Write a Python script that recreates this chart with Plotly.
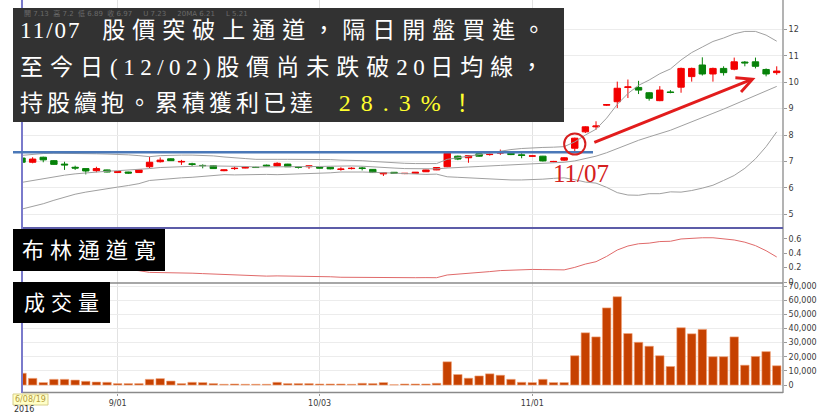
import plotly.graph_objects as go

# ---------------- data ----------------
dates = [
    "2016-08-19", "2016-08-22", "2016-08-23", "2016-08-24", "2016-08-25", "2016-08-26", "2016-08-29", "2016-08-30", "2016-08-31",
    "2016-09-01", "2016-09-02", "2016-09-05", "2016-09-06", "2016-09-07", "2016-09-08", "2016-09-09", "2016-09-10", "2016-09-12",
    "2016-09-13", "2016-09-14", "2016-09-19", "2016-09-20", "2016-09-21", "2016-09-22", "2016-09-23", "2016-09-26", "2016-09-29",
    "2016-09-30",
    "2016-10-03", "2016-10-04", "2016-10-05", "2016-10-06", "2016-10-07", "2016-10-11", "2016-10-12", "2016-10-13", "2016-10-14",
    "2016-10-17", "2016-10-18", "2016-10-19", "2016-10-20", "2016-10-21", "2016-10-24", "2016-10-25", "2016-10-26", "2016-10-27",
    "2016-10-28", "2016-10-31",
    "2016-11-01", "2016-11-02", "2016-11-03", "2016-11-04", "2016-11-07", "2016-11-08", "2016-11-09", "2016-11-10", "2016-11-11",
    "2016-11-14", "2016-11-15", "2016-11-16", "2016-11-17", "2016-11-18", "2016-11-21", "2016-11-22", "2016-11-23", "2016-11-24",
    "2016-11-25", "2016-11-28", "2016-11-29", "2016-11-30",
    "2016-12-01", "2016-12-02",
]

opens = [7.13, 6.97, 7.16, 7.03, 6.90, 6.78, 6.73, 6.65, 6.68, 6.58,
         6.60, 6.58, 6.80, 6.99, 7.10, 6.98, 6.91, 6.85, 6.84, 6.65,
         6.73, 6.75, 6.78, 6.86, 6.83, 6.90, 6.79, 6.80, 6.78, 6.78,
         6.70, 6.73, 6.75, 6.70, 6.53, 6.59, 6.54, 6.55, 6.61, 6.68,
         6.80, 7.20, 7.14, 7.29, 7.26, 7.32, 7.31, 7.25, 7.20, 7.20,
         6.99, 7.05, 7.50, 8.12, 8.31, 9.13, 9.26, 9.80, 9.80, 9.60,
         9.30, 9.63, 9.81, 10.21, 10.65, 10.31, 10.52, 10.49, 10.76, 10.77,
         10.48, 10.36]
highs = [7.20, 7.16, 7.18, 7.05, 6.99, 6.84, 6.73, 6.80, 6.69, 6.63,
         6.61, 6.69, 7.18, 7.15, 7.12, 7.06, 6.95, 6.89, 6.85, 6.69,
         6.80, 6.81, 6.80, 6.88, 6.97, 6.91, 6.81, 6.84, 6.79, 6.79,
         6.78, 6.78, 6.80, 6.71, 6.58, 6.60, 6.56, 6.60, 6.69, 6.78,
         7.32, 7.22, 7.24, 7.30, 7.30, 7.45, 7.33, 7.31, 7.23, 7.21,
         7.02, 7.16, 7.90, 8.33, 8.52, 9.17, 10.02, 10.10, 10.05, 9.62,
         9.85, 9.70, 10.55, 10.55, 10.94, 10.55, 10.60, 10.93, 10.80, 10.93,
         10.52, 10.60]
lows = [6.89, 6.93, 6.97, 6.87, 6.68, 6.68, 6.51, 6.59, 6.59, 6.57,
        6.53, 6.57, 6.74, 6.96, 7.02, 6.87, 6.83, 6.74, 6.72, 6.63,
        6.68, 6.74, 6.76, 6.82, 6.81, 6.79, 6.73, 6.72, 6.74, 6.70,
        6.65, 6.70, 6.66, 6.57, 6.45, 6.54, 6.52, 6.54, 6.60, 6.67,
        6.78, 7.05, 6.95, 7.18, 7.22, 7.25, 7.24, 7.12, 7.17, 7.00,
        6.97, 7.02, 7.31, 8.08, 8.20, 9.10, 9.02, 9.40, 9.55, 9.30,
        9.28, 9.58, 9.60, 10.02, 10.25, 10.02, 10.25, 10.45, 10.60, 10.52,
        10.22, 10.28]
closes = [6.97, 7.09, 7.06, 6.89, 6.87, 6.75, 6.64, 6.73, 6.60, 6.62,
          6.56, 6.68, 6.97, 7.05, 7.03, 7.00, 6.89, 6.84, 6.73, 6.68,
          6.74, 6.78, 6.77, 6.83, 6.93, 6.80, 6.78, 6.83, 6.75, 6.72,
          6.71, 6.74, 6.74, 6.58, 6.57, 6.55, 6.55, 6.59, 6.68, 6.77,
          7.31, 7.09, 7.22, 7.20, 7.27, 7.33, 7.26, 7.23, 7.21, 7.02,
          7.00, 7.14, 7.88, 8.31, 8.34, 9.15, 9.77, 9.82, 9.70, 9.39,
          9.70, 9.61, 10.52, 10.52, 10.31, 10.52, 10.36, 10.77, 10.73, 10.60,
          10.31, 10.42]

bb_upper = [7.23, 7.27, 7.30, 7.31, 7.31, 7.30, 7.30, 7.29, 7.28, 7.27,
            7.25, 7.22, 7.18, 7.22, 7.24, 7.24, 7.24, 7.23, 7.21, 7.17,
            7.15, 7.11, 7.08, 7.07, 7.08, 7.08, 7.08, 7.08, 7.07, 7.07,
            7.05, 7.05, 7.03, 7.00, 6.97, 6.94, 6.93, 6.92, 6.92, 6.92,
            7.08, 7.13, 7.20, 7.26, 7.32, 7.40, 7.45, 7.49, 7.52, 7.53,
            7.54, 7.56, 7.74, 8.00, 8.22, 8.64, 9.16, 9.57, 9.88, 10.08,
            10.32, 10.50, 10.84, 11.12, 11.33, 11.54, 11.67, 11.83, 11.92, 11.92,
            11.78, 11.55]
bb_mid = [6.21, 6.28, 6.35, 6.42, 6.48, 6.53, 6.57, 6.60, 6.63, 6.65,
          6.67, 6.69, 6.73, 6.77, 6.79, 6.81, 6.82, 6.83, 6.83, 6.83,
          6.82, 6.81, 6.79, 6.79, 6.79, 6.79, 6.80, 6.81, 6.81, 6.82,
          6.83, 6.83, 6.82, 6.79, 6.77, 6.75, 6.73, 6.72, 6.72, 6.72,
          6.75, 6.76, 6.79, 6.81, 6.82, 6.85, 6.87, 6.89, 6.92, 6.93,
          6.95, 6.97, 7.02, 7.11, 7.20, 7.33, 7.49, 7.65, 7.80, 7.93,
          8.05, 8.18, 8.34, 8.51, 8.66, 8.82, 8.98, 9.15, 9.33, 9.51,
          9.67, 9.84]
bb_lower = [5.20, 5.30, 5.40, 5.53, 5.65, 5.76, 5.84, 5.91, 5.98, 6.03,
            6.09, 6.16, 6.28, 6.32, 6.34, 6.38, 6.40, 6.43, 6.45, 6.50,
            6.49, 6.50, 6.51, 6.51, 6.50, 6.51, 6.52, 6.53, 6.55, 6.57,
            6.60, 6.61, 6.60, 6.59, 6.57, 6.56, 6.53, 6.52, 6.51, 6.52,
            6.42, 6.40, 6.38, 6.36, 6.33, 6.31, 6.30, 6.30, 6.31, 6.33,
            6.36, 6.38, 6.31, 6.22, 6.18, 6.02, 5.82, 5.73, 5.72, 5.78,
            5.78, 5.85, 5.84, 5.90, 5.99, 6.10, 6.28, 6.47, 6.74, 7.10,
            7.56, 8.12]
bb_width = [0.327, 0.314, 0.299, 0.277, 0.256, 0.236, 0.222, 0.209, 0.196, 0.186,
            0.174, 0.158, 0.134, 0.133, 0.133, 0.126, 0.123, 0.117, 0.111, 0.098,
            0.097, 0.090, 0.084, 0.082, 0.085, 0.084, 0.082, 0.081, 0.076, 0.073,
            0.066, 0.064, 0.063, 0.060, 0.059, 0.056, 0.059, 0.060, 0.061, 0.060,
            0.098, 0.108, 0.121, 0.132, 0.145, 0.159, 0.167, 0.173, 0.175, 0.173,
            0.170, 0.169, 0.204, 0.250, 0.283, 0.357, 0.446, 0.502, 0.533, 0.542,
            0.564, 0.568, 0.600, 0.613, 0.617, 0.617, 0.600, 0.586, 0.555, 0.507,
            0.436, 0.349]
volume = [8300, 4700, 1700, 4000, 4000, 3500, 2600, 2100, 1900, 1000,
          1000, 1000, 4000, 4500, 2800, 1000, 1900, 1700, 1000, 500,
          700, 500, 500, 500, 1900, 1000, 1000, 1000, 700, 700,
          700, 500, 1200, 1000, 1700, 200, 700, 700, 700, 1200,
          16400, 7400, 4800, 6400, 7900, 6900, 4000, 1900, 1700, 4000,
          1700, 1700, 20700, 36900, 34000, 54500, 62400, 36400, 30200, 27400,
          20700, 13100, 40500, 36200, 39300, 20000, 20000, 34000, 14000, 20200,
          23600, 13600]

tick_dates = ["2016-09-01", "2016-10-03", "2016-11-01"]
tick_text = ["9/01", "10/03", "11/01"]
price_ticks = [5, 6, 7, 8, 9, 10, 11, 12]
bw_ticks = [0, 0.2, 0.4, 0.6]
bw_text = ["0", "0.2", "0.4", "0.6"]
vol_ticks = [0, 10000, 20000, 30000, 40000, 50000, 60000, 70000]

breakout_idx = 52          # 11/07
arrow_from = (53.7, 7.70)
arrow_to = (69.0, 10.16)

# ---------------- geometry helpers ----------------
W, H = 820, 415
LM, RM, TM, BM = 22, 37, 0, 22
PW = W - LM - RM
PH = H - TM - BM


def fx(px):
    return (px - LM) / PW


def fy(py):
    return 1 - (py - TM) / PH


RED = "#f20000"
GREEN = "#07820a"
AXFONT = dict(family="DejaVu Sans", size=8, color="#3a3a3a")
TXTFONT = "Liberation Serif, Noto Sans CJK TC"

fig = go.Figure()
for arr in (bb_upper, bb_mid, bb_lower):
    fig.add_trace(go.Scatter(x=dates, y=arr, mode="lines", line=dict(color="#a0a0a0", width=1),
                             xaxis="x", yaxis="y", hoverinfo="skip"))
fig.add_trace(go.Candlestick(
    x=dates, open=opens, high=highs, low=lows, close=closes,
    increasing=dict(line=dict(color=RED, width=1), fillcolor=RED),
    decreasing=dict(line=dict(color=GREEN, width=1), fillcolor=GREEN),
    whiskerwidth=0, xaxis="x", yaxis="y", hoverinfo="skip"))
fig.add_trace(go.Scatter(x=dates, y=bb_width, mode="lines", line=dict(color="#e06a6a", width=1),
                         xaxis="x2", yaxis="y2", hoverinfo="skip"))
fig.add_trace(go.Bar(x=dates, y=volume, width=0.8,
                     marker=dict(color="#c64100", line=dict(color="#f2a57a", width=0.6)),
                     xaxis="x3", yaxis="y3", hoverinfo="skip"))

xcommon = dict(type="category", range=[0, 71.59], zeroline=False, showline=False,
               tickvals=tick_dates, ticktext=tick_text, showgrid=True,
               gridcolor="#e2e2e2", gridwidth=1, domain=[0, 1])
ycommon = dict(side="right", ticks="outside", ticklen=3, tickcolor="#9a9a9a",
               tickfont=AXFONT, zeroline=False, showline=False)

fig.update_layout(
    width=W, height=H, margin=dict(l=LM, r=RM, t=TM, b=BM),
    paper_bgcolor="white", plot_bgcolor="white", showlegend=False,
    hovermode=False, boxgap=0.14,
    xaxis=dict(**xcommon, anchor="y", showticklabels=False, ticks="",
               rangeslider=dict(visible=False)),
    xaxis2=dict(**xcommon, anchor="y2", showticklabels=False, ticks=""),
    xaxis3=dict(**xcommon, anchor="y3", showticklabels=True, ticks="outside",
                ticklen=2, tickcolor="#9a9a9a", tickfont=AXFONT),
    yaxis=dict(**ycommon, domain=[fy(228), 1], range=[4.482, 13.109], anchor="x",
               tickvals=price_ticks, showgrid=True, gridcolor="#ececec"),
    yaxis2=dict(**ycommon, domain=[fy(283), fy(228)], range=[-0.014, 0.753], anchor="x2",
                tickvals=bw_ticks, ticktext=bw_text, showgrid=False),
    yaxis3=dict(**ycommon, domain=[0, fy(283)], range=[-5657, 72120], anchor="x3",
                tickvals=vol_ticks, tickformat=",", showgrid=True, gridcolor="#ececec"),
)


def pline(x0, y0, x1, y1, color, width):
    return dict(type="line", xref="paper", yref="paper", x0=fx(x0), y0=fy(y0), x1=fx(x1), y1=fy(y1),
                line=dict(color=color, width=width), layer="above")


def prect(x0, y0, x1, y1, fill, line=None):
    return dict(type="rect", xref="paper", yref="paper", x0=fx(x0), y0=fy(y0), x1=fx(x1), y1=fy(y1),
                fillcolor=fill, line=dict(width=0 if line is None else 1, color=line or fill), layer="above")


shapes = [
    pline(783, 0, 783, 393, "#9a9a9a", 1.5),
    pline(22, 283, 783, 283, "#8a8a8a", 1.5),
    pline(22, 392.5, 783, 392.5, "#8a8a8a", 1.5),
    pline(22, 228, 783, 228, "#5c5ca8", 2),
    pline(22, 0, 22, 393, "#7a7acb", 2),
    pline(13, 152.3, 593, 152.3, "#4a78b8", 2.5),
    prect(13, 8, 564, 122, "#323232"),
    prect(13, 229, 165, 271, "#000000"),
    prect(13, 282, 110, 323, "#000000"),
    prect(13, 394, 48, 405, "#ffffc8", "#d8cf8a"),
    dict(type="circle", xref="x", yref="y", x0=breakout_idx - 1.0, x1=breakout_idx + 1.0,
         y0=7.263, y1=8.058, line=dict(color="#d61f1f", width=2), layer="above"),
]


def ann(text, x, y, size, color, xanchor="left", family=TXTFONT):
    return dict(text=text, x=fx(x), y=fy(y), xref="paper", yref="paper", showarrow=False,
                xanchor=xanchor, yanchor="middle", font=dict(size=size, color=color, family=family))


LS = '<span style="letter-spacing:%spx">%s</span>'
line1 = LS % (2, "11/07") + LS % (15, " ") + LS % (7, "股價突破上通道，隔日開盤買進。")
line2 = (LS % (7, "至今日") + LS % (5.5, "(12/02)") + LS % (7, "股價尚未跌破")
         + LS % (5.5, "20") + LS % (7, "日均線，"))
line3 = (LS % (4, "持股續抱。累積獲利已達") + LS % (16, " ")
         + '<span style="color:#ffff2e;letter-spacing:10px;font-size:24px">28.3%</span>'
         + '<span style="color:#ffff2e">！</span>')

annotations = [
    ann("開 7.13  高 7.2  低 6.89  收 6.97     U 7.23     20MA 6.21     L 5.21", 22, 14, 7, "#6a6a6a",
        family="DejaVu Sans, Noto Sans CJK TC"),
    ann(line1, 18, 30, 23, "white"),
    ann(line2, 18, 67, 23, "white"),
    ann(line3, 18, 103, 23, "white"),
    ann(LS % (6, "布林通道寬"), 92, 250, 22, "white", xanchor="center"),
    ann(LS % (6, "成交量"), 64, 302.5, 21, "white", xanchor="center"),
    ann("11/07", 581, 173, 25, "#d42020", xanchor="center", family="Liberation Serif"),
    ann("6/08/19", 30.5, 399.5, 8, "#b49a3c", xanchor="center", family="DejaVu Sans"),
    ann("2016", 12, 409.5, 8, "#333333", family="DejaVu Sans"),
    dict(x=arrow_to[0], y=arrow_to[1], ax=arrow_from[0], ay=arrow_from[1],
         xref="x", yref="y", axref="x", ayref="y", text="", showarrow=True,
         arrowhead=5, arrowsize=1, arrowwidth=3, arrowcolor="#e21c1c"),
]

fig.update_layout(shapes=shapes, annotations=annotations)
fig.write_html("out.html", config={"displayModeBar": False},
               post_script="document.body.style.margin='0px';document.body.style.padding='0px';")
